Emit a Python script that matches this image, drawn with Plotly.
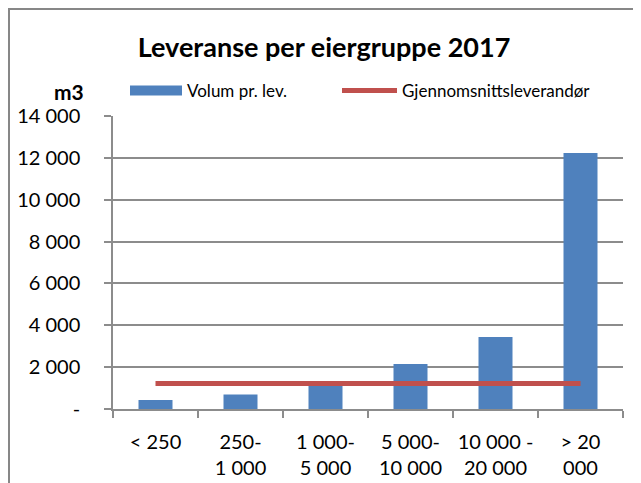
import plotly.graph_objects as go

categories = ["< 250", "250-<br>1 000", "1 000-<br>5 000", "5 000-<br>10 000", "10 000 -<br>20 000", "> 20<br>000"]
volum = [430, 690, 1150, 2150, 3440, 12230]
snitt = [1220, 1220, 1220, 1220, 1220, 1220]
ytick_vals = [0, 2000, 4000, 6000, 8000, 10000, 12000, 14000]
ytick_text = ["-", "2 000", "4 000", "6 000", "8 000", "10 000", "12 000", "14 000"]

FONT = "Lato, 'Liberation Sans', Arial, sans-serif"
GRID = "#8c8c8c"

# page body has an 8px margin, so the figure is drawn from (8, 8)
OFF = 8
W, H = 641 - OFF, 483 - OFF
L, R, T, B = 113 - OFF, 18, 116 - OFF, 74
PW, PH = W - L - R, H - T - B


def px(xpix):
    return (xpix - OFF - L) / PW


def py(ypix):
    return (H - B - (ypix - OFF)) / PH


fig = go.Figure()
fig.add_trace(go.Bar(x=categories, y=volum, name="Volum pr. lev.", marker=dict(color="#4F81BD", line=dict(width=0)),
                     width=0.4, showlegend=False))
fig.add_trace(go.Scatter(x=[None], y=[None], mode="lines", name="Volum pr. lev.",
                         line=dict(color="#4F81BD", width=12), legend="legend"))
fig.add_trace(go.Scatter(x=categories, y=snitt, mode="lines", name="Gjennomsnittsleverandør",
                         line=dict(color="#C0504D", width=5), legend="legend2"))

legend_common = dict(orientation="h", xanchor="left", yanchor="middle", y=py(91),
                     font=dict(size=17, family=FONT), bgcolor="rgba(0,0,0,0)")

fig.update_layout(
    width=W, height=H,
    margin=dict(l=L, r=R, t=T, b=B, autoexpand=False),
    paper_bgcolor="white", plot_bgcolor="white",
    font=dict(family=FONT, size=20, color="#000000"),
    title=dict(text="<b>Leveranse per eiergruppe 2017</b>", font=dict(size=27, family=FONT),
               x=px(324), xref="paper", xanchor="center", y=1 - (48 - OFF) / H, yref="container", yanchor="middle"),
    legend=dict(x=px(125), itemwidth=52, **legend_common),
    legend2=dict(x=px(337), itemwidth=55, **legend_common),
    showlegend=True,
)
fig.update_xaxes(type="category", range=[-0.5, 5.5], showline=True, linecolor=GRID, linewidth=1.5,
                 ticks="outside", tickson="boundaries", ticklen=7, tickcolor=GRID, tickwidth=1.5,
                 showgrid=False, tickangle=0, ticklabelstandoff=14, automargin=False)
fig.update_yaxes(range=[0, 14000], tickvals=ytick_vals, ticktext=ytick_text, showline=True, linecolor=GRID,
                 linewidth=1.5, ticks="outside", ticklen=7, tickcolor=GRID, tickwidth=1.5,
                 showgrid=True, gridcolor=GRID, gridwidth=1.5, zeroline=False, ticklabelstandoff=20,
                 automargin=False)

fig.add_annotation(text="<b>m3</b>", xref="paper", yref="paper", x=px(86), y=py(91),
                   xanchor="right", yanchor="middle", showarrow=False, font=dict(size=21, family=FONT))
fig.add_shape(type="rect", xref="paper", yref="paper", x0=px(9), x1=px(637),
              y0=py(520), y1=py(9), line=dict(color="#878787", width=2), layer="below")

fig.write_html("out.html")
